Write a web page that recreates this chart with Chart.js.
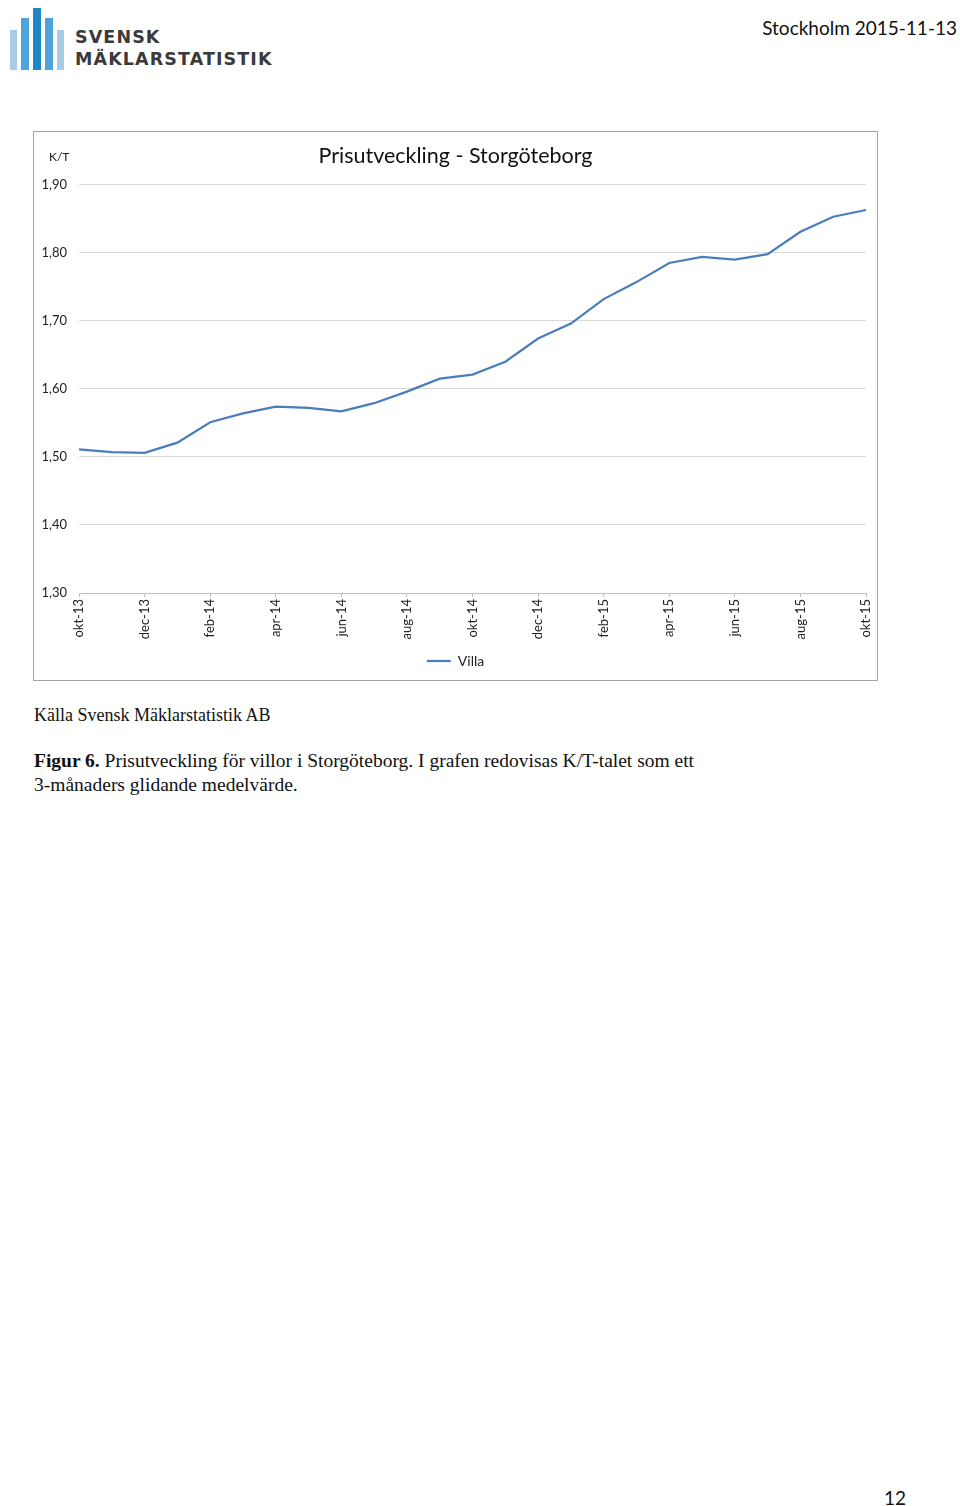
<!DOCTYPE html>
<html lang="sv">
<head>
<meta charset="utf-8">
<title>Prisutveckling - Storgöteborg</title>
<script src="https://cdn.jsdelivr.net/npm/chart.js@4/dist/chart.umd.min.js"></script>
<style>
  html, body { margin: 0; padding: 0; background: #fff; }
  body { width: 960px; height: 1506px; position: relative; overflow: hidden; }
  .logo-bar { position: absolute; bottom: 0; }
  #logo { position: absolute; left: 9px; top: 6px; width: 58px; height: 64px; }
  .logo-text { position: absolute; left: 75px; font-family: 'DejaVu Sans', sans-serif; font-weight: bold; color: #3a3a3a; letter-spacing: 1.1px; font-size: 17.5px; line-height: 1; }
  #date { position: absolute; right: 3px; top: 16px; font-family: Lato, sans-serif; font-size: 19px; color: #111; }
  #box { position: absolute; left: 33px; top: 131px; width: 843px; height: 548px; border: 1px solid #a5a5a5; }
  #box canvas { display: block; }
  .serif { position: absolute; left: 34px; font-family: 'Liberation Serif', serif; color: #111; }
  #src { top: 705px; font-size: 18px; }
  #cap { top: 749px; font-size: 19.5px; line-height: 24px; }
  #page { position: absolute; left: 884px; top: 1486px; font-family: Lato, sans-serif; font-size: 19px; color: #111; }
</style>
</head>
<body>
<div id="logo">
  <div class="logo-bar" style="left:1px;width:7px;height:40px;background:#a9cbe6"></div>
  <div class="logo-bar" style="left:12px;width:8px;height:52px;background:#4da3db"></div>
  <div class="logo-bar" style="left:24px;width:8px;height:62px;background:#1f87c8"></div>
  <div class="logo-bar" style="left:36px;width:8px;height:52px;background:#4da3db"></div>
  <div class="logo-bar" style="left:48px;width:7px;height:40px;background:#a9cbe6"></div>
</div>
<div class="logo-text" style="top:29px">SVENSK</div>
<div class="logo-text" style="top:51px">MÄKLARSTATISTIK</div>
<div id="date">Stockholm 2015-11-13</div>

<div id="box"><canvas id="chart" width="843" height="548"></canvas></div>

<div class="serif" id="src">Källa Svensk Mäklarstatistik AB</div>
<div class="serif" id="cap"><b>Figur 6.</b> Prisutveckling för villor i Storgöteborg. I grafen redovisas K/T-talet som ett<br>3-månaders glidande medelvärde.</div>
<div id="page">12</div>

<script>
// months okt-13 .. okt-15
const months = [
  'okt-13', 'nov-13', 'dec-13', 'jan-14', 'feb-14', 'mar-14', 'apr-14', 'maj-14', 'jun-14',
  'jul-14', 'aug-14', 'sep-14', 'okt-14', 'nov-14', 'dec-14', 'jan-15', 'feb-15', 'mar-15',
  'apr-15', 'maj-15', 'jun-15', 'jul-15', 'aug-15', 'sep-15', 'okt-15',
];
// K/T, Villa, 3-month moving average
const villa = [
  1.511, 1.507, 1.506, 1.521, 1.551, 1.564, 1.574, 1.572, 1.567,
  1.579, 1.596, 1.615, 1.621, 1.640, 1.674, 1.696, 1.732, 1.757,
  1.785, 1.794, 1.790, 1.798, 1.831, 1.853, 1.863,
];
const yTicks = [1.30, 1.40, 1.50, 1.60, 1.70, 1.80, 1.90];

const FONT = 'Lato, "Open Sans", sans-serif';
const GRID = '#d9d9d9';

Chart.defaults.font.family = FONT;
Chart.defaults.color = '#222';

// "K/T" unit label above the y tick labels
const unitLabel = {
  id: 'unitLabel',
  afterDraw(chart) {
    const { ctx, chartArea } = chart;
    ctx.save();
    ctx.font = '12px ' + FONT;
    ctx.fillStyle = '#222';
    ctx.textAlign = 'left';
    ctx.textBaseline = 'middle';
    ctx.fillText('K/T', 15, chartArea.top - 28);
    ctx.restore();
  },
};

new Chart(document.getElementById('chart'), {
  type: 'line',
  data: {
    labels: months,
    datasets: [{
      label: 'Villa',
      data: villa,
      borderColor: '#4a7ebb',
      backgroundColor: '#4a7ebb',
      borderWidth: 2.2,
      pointRadius: 0,
      tension: 0,
      fill: false,
    }],
  },
  options: {
    responsive: false,
    animation: false,
    layout: { padding: { left: 0, right: 0, top: 0, bottom: 2 } },
    plugins: {
      title: {
        display: true,
        text: 'Prisutveckling - Storgöteborg',
        color: '#111',
        font: { size: 21.5, weight: 'normal' },
        padding: { top: 11, bottom: 16 },
      },
      legend: {
        position: 'bottom',
        labels: {
          usePointStyle: true,
          pointStyle: 'line',
          pointStyleWidth: 24,
          boxWidth: 24,
          font: { size: 14 },
          color: '#222',
          padding: 6,
        },
      },
      tooltip: { enabled: false },
    },
    scales: {
      x: {
        grid: {
          drawOnChartArea: false,
          color: '#bfbfbf',
          tickLength: 4,
        },
        border: { color: '#bfbfbf' },
        ticks: {
          autoSkip: false,
          maxRotation: 90,
          minRotation: 90,
          padding: 2,
          font: { size: 13 },
          callback: (v, i) => (i % 2 === 0 ? months[i] : null),
        },
        afterFit: s => {
          s.height = 55;
          s.paddingLeft = 0;
          s.paddingRight = 11;
        },
      },
      y: {
        min: 1.3,
        max: 1.9,
        afterBuildTicks: s => { s.ticks = yTicks.map(v => ({ value: v })); },
        grid: { color: GRID, drawTicks: false },
        border: { display: false },
        ticks: {
          padding: 12,
          font: { size: 13 },
          callback: v => v.toFixed(2).replace('.', ','),
        },
        afterFit: s => { s.width = 45; },
      },
    },
  },
  plugins: [unitLabel],
});
</script>
</body>
</html>
